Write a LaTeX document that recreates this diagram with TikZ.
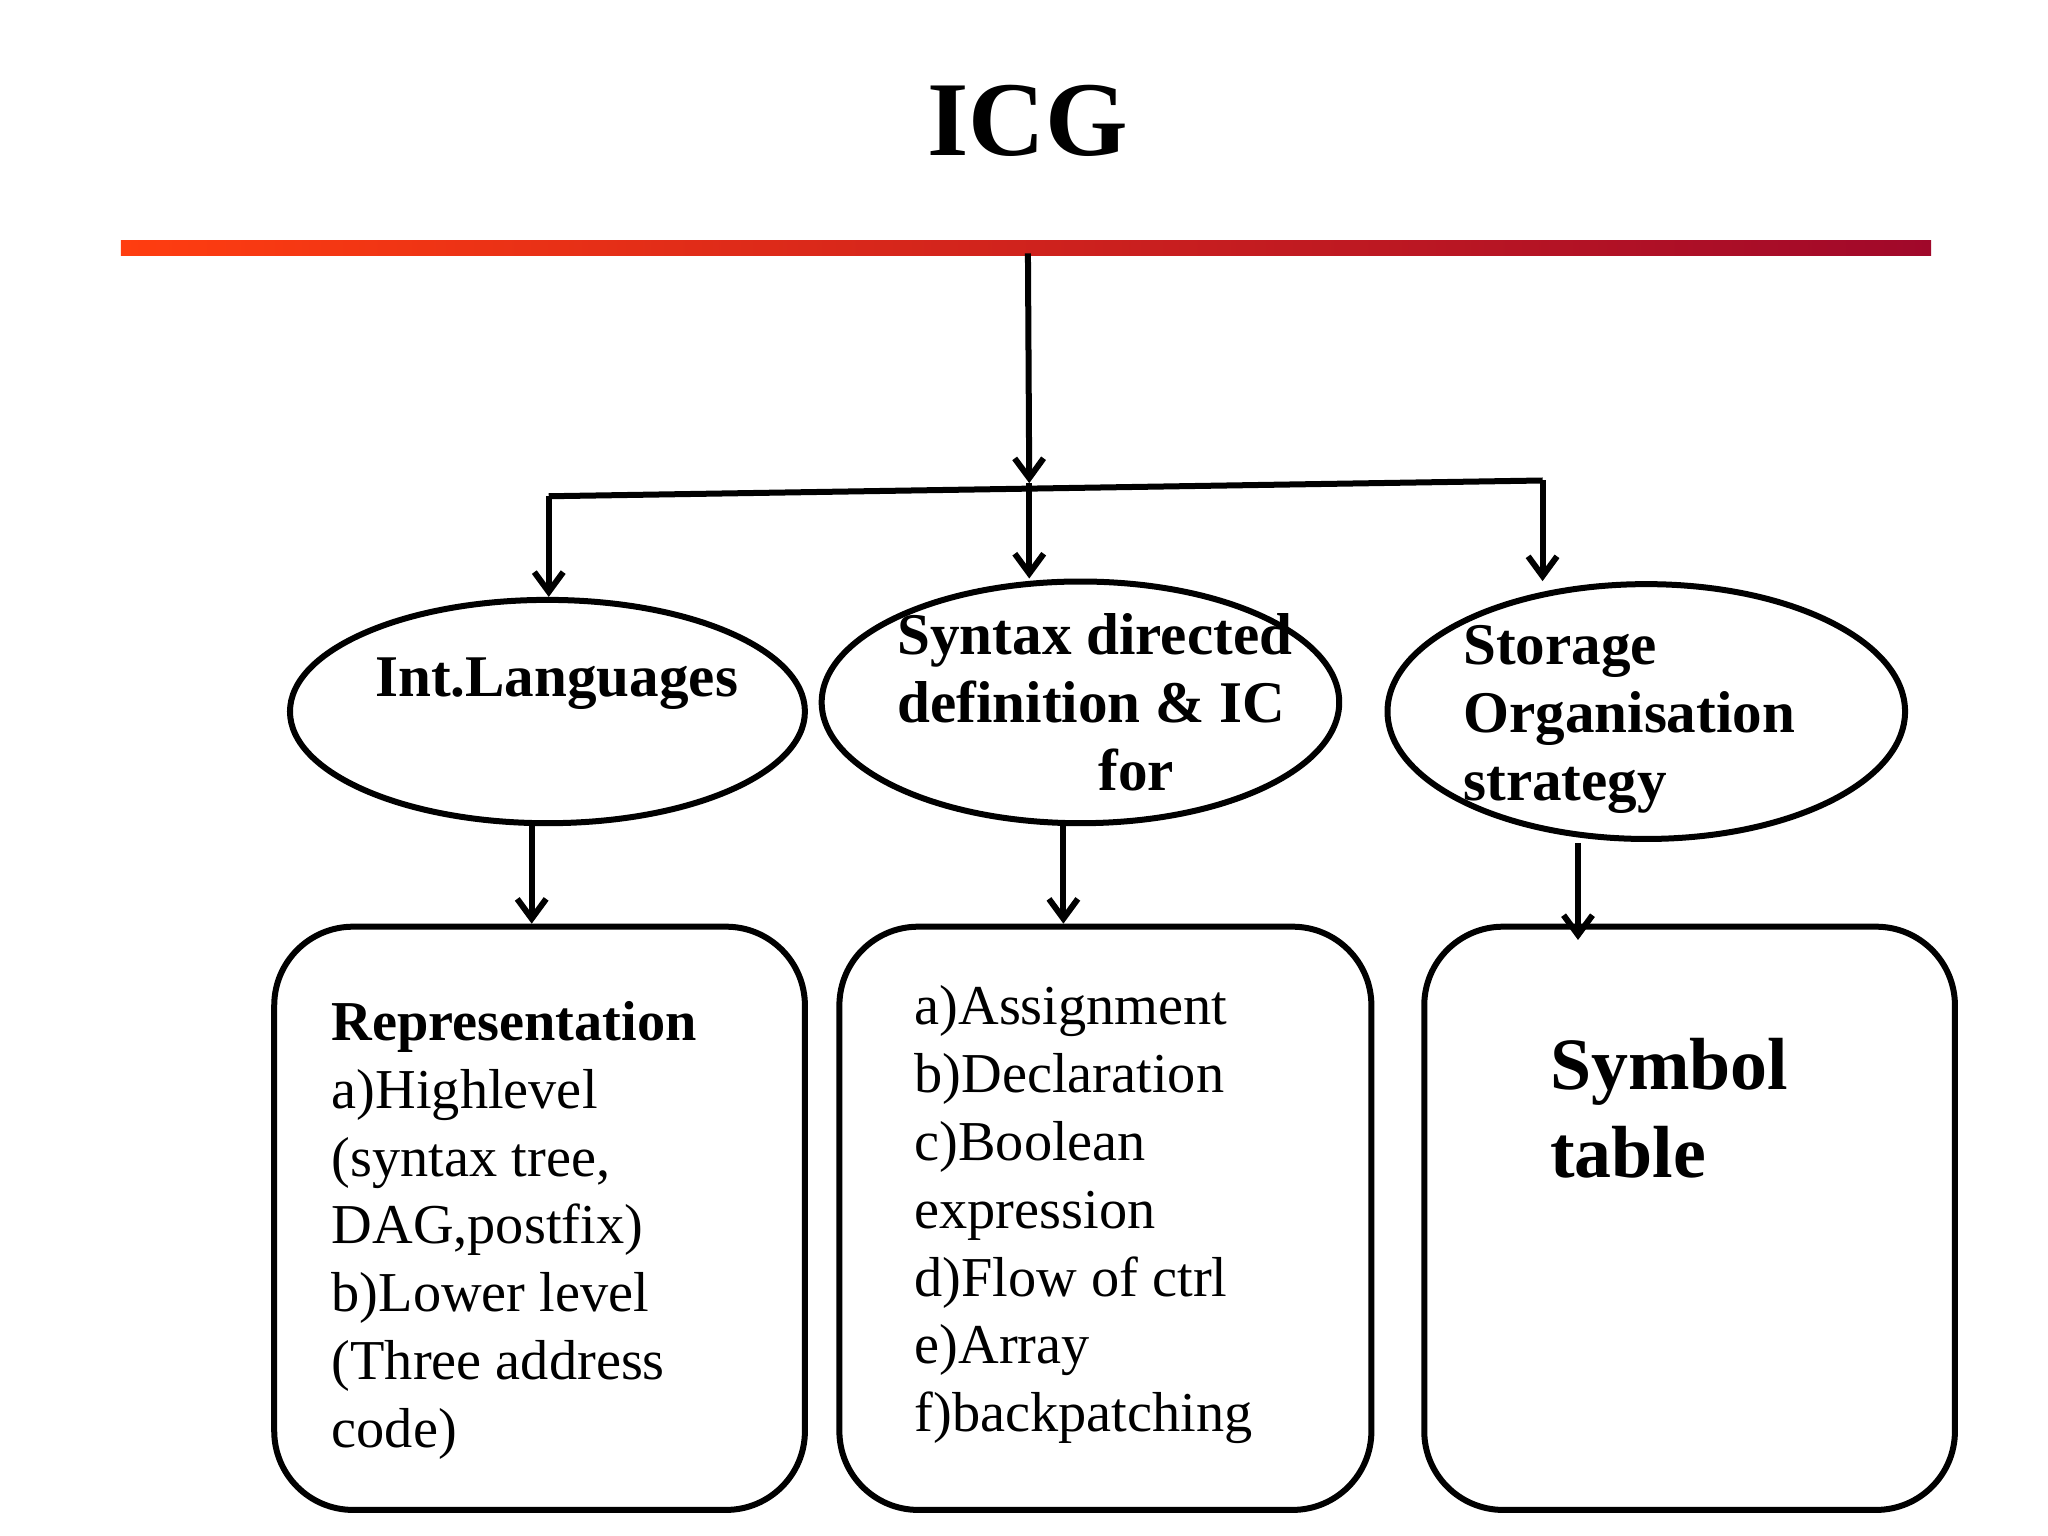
\documentclass[tikz,border=0pt]{standalone}
\usepackage{fontspec}
\setmainfont{Liberation Serif}
\usetikzlibrary{arrows.meta,shapes.geometric}
\tikzset{
  conn/.style={line width=1.3pt,-{Straight Barb[length=1.5mm,width=2.2mm]}},
  topic/.style={draw,ellipse,line width=1.3pt,inner sep=0pt},
  box/.style={draw,line width=1.3pt,rounded corners=6mm,inner sep=0pt},
  txt/.style={align=left,anchor=north west,inner sep=0pt,font=\fontsize{12.2}{14.7}\selectfont},
  btxt/.style={align=left,inner sep=0pt,font=\bfseries\fontsize{12.8}{14.8}\selectfont}
}
\begin{document}
\begin{tikzpicture}[x=0.01cm,y=-0.01cm]
	\useasboundingbox (0,0) rectangle (1560,1170);
	
	%Titel
	\node (title) at (783,92) {\bfseries\fontsize{23}{27}\selectfont ICG};
	\shade[left color={rgb,255:red,255;green,61;blue,16}, right color={rgb,255:red,160;green,8;blue,42}] (92,183) rectangle (1471,195);
	
	%Verzweigung
	\coordinate (top) at (783,193);
	\coordinate (mid) at (784,368);
	\coordinate (jl) at (418,378);
	\coordinate (jr) at (1175,366);
	\draw[conn] (top) -- (mid);
	\draw[line width=1.3pt] (jl) -- (jr);
	
	%Ellipsen
	\node[topic,minimum width=3.92cm,minimum height=1.70cm] (lang) at (417,542) {};
	\node[topic,minimum width=3.94cm,minimum height=1.84cm] (sdd) at (823,535) {};
	\node[topic,minimum width=3.94cm,minimum height=1.94cm] (stor) at (1254,542) {};
	\node[btxt] at (424,521) {Int.Languages};
	\node[btxt,anchor=west] at (683,535) {Syntax directed\\definition \& IC\\\hspace*{3.4em}for};
	\node[btxt,anchor=west] at (1114,548) {Storage\\Organisation\\strategy};
	
	\draw[conn] (jl) -- (lang.north -| jl);
	\draw[conn] (mid) -- (sdd.north -| mid);
	\draw[conn] (jr) -- (stor.north -| jr);
	
	%Kaesten
	\node[box,minimum width=4.04cm,minimum height=4.44cm] (repr) at (411,928) {};
	\node[box,minimum width=4.05cm,minimum height=4.44cm] (ic) at (842,928) {};
	\node[box,minimum width=4.04cm,minimum height=4.44cm] (sym) at (1287,928) {};
	\node[txt] at (252,762) {\textbf{Representation}\\a)Highlevel\\(syntax tree,\\DAG,postfix)\\b)Lower level\\(Three address\\code)};
	\node[txt] at (696,750) {a)Assignment\\b)Declaration\\c)Boolean\\expression\\d)Flow of ctrl\\e)Array\\f)backpatching};
	\node[txt,font=\bfseries\fontsize{16}{19}\selectfont] at (1180,790) {Symbol\\table};
	
	\draw[conn] (405,628) -- (repr.north -| 405,0);
	\draw[conn] (810,628) -- (ic.north -| 810,0);
	\draw[conn] (1202,642) -- (1202,716);
\end{tikzpicture}
\end{document}
